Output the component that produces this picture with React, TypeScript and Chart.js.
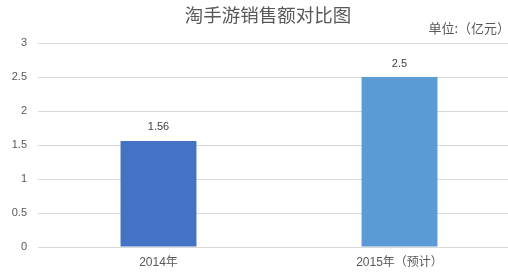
import React, { useEffect, useRef } from "react";
import { Chart, registerables } from "chart.js";

Chart.register(...registerables);

const categories = ["2014年", "2015年（预计）"];
const sales = [1.56, 2.5];
const barColors = ["#4472C4", "#5B9BD5"];
const yTicks = [0, 0.5, 1, 1.5, 2, 2.5, 3];

const chartTitle = "淘手游销售额对比图";
const unitLabel = "单位:（亿元）";

const FONT = "'Liberation Sans', 'Noto Sans CJK SC', sans-serif";
const CJK_FONT = "'Noto Sans CJK SC', sans-serif";

const overlayPlugin = {
  id: "overlayText",
  afterDatasetsDraw(chart: any) {
    const ctx = chart.ctx;
    ctx.save();
    // value labels above bars
    const meta = chart.getDatasetMeta(0);
    ctx.fillStyle = "#404040";
    ctx.font = `11px ${FONT}`;
    ctx.textAlign = "center";
    ctx.textBaseline = "bottom";
    meta.data.forEach((bar: any, i: number) => {
      ctx.fillText(String(sales[i]), bar.x, bar.y - 8);
    });
    // title
    ctx.fillStyle = "#595959";
    ctx.font = `18.5px ${CJK_FONT}`;
    ctx.textBaseline = "middle";
    ctx.fillText(chartTitle, 268, 15);
    // unit note
    ctx.font = `13px ${CJK_FONT}`;
    ctx.textAlign = "right";
    ctx.fillText(unitLabel, 510, 28);
    ctx.restore();
  },
};

export default function App() {
  const ref = useRef<HTMLCanvasElement | null>(null);

  useEffect(() => {
    if (!ref.current) return;
    const chart = new Chart(ref.current, {
      type: "bar",
      data: {
        labels: categories,
        datasets: [
          {
            data: sales,
            backgroundColor: barColors,
            categoryPercentage: 1,
            barPercentage: 0.315,
          },
        ],
      },
      options: {
        animation: false,
        responsive: false,
        maintainAspectRatio: false,
        layout: { padding: { top: 43, right: 0, bottom: 0, left: 0 } },
        plugins: {
          legend: { display: false },
          title: { display: false },
          tooltip: { enabled: false },
        },
        scales: {
          x: {
            grid: { display: false, drawTicks: false },
            border: { display: false },
            ticks: {
              color: "#595959",
              font: { size: 12, family: FONT },
              padding: 8,
              maxRotation: 0,
            },
            afterFit(scale: any) {
              scale.height = 30;
            },
          },
          y: {
            min: 0,
            max: 3,
            afterBuildTicks(scale: any) {
              scale.ticks = yTicks.map((v) => ({ value: v }));
            },
            grid: { color: "#D9D9D9", drawTicks: false },
            border: { display: false },
            ticks: {
              color: "#595959",
              font: { size: 11, family: FONT },
              padding: 11,
              callback: (v: any) => String(v),
            },
            afterFit(scale: any) {
              scale.width = 38;
            },
          },
        },
      },
      plugins: [overlayPlugin],
    });
    return () => chart.destroy();
  }, []);

  return (
    <div
      style={{
        position: "fixed",
        left: 0,
        top: 0,
        width: 508,
        height: 277,
        overflow: "hidden",
        background: "#ffffff",
      }}
    >
      <canvas ref={ref} width={520} height={277} style={{ display: "block" }} />
    </div>
  );
}
